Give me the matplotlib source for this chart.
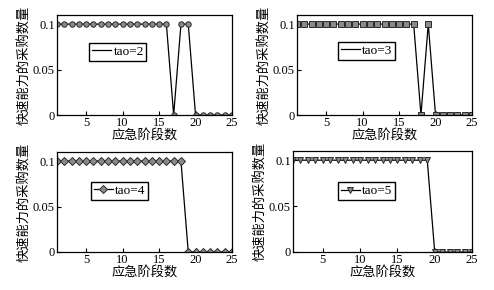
import matplotlib
matplotlib.use("Agg")
import matplotlib.pyplot as plt

# emergency stages 1..25
stages = list(range(1, 26))

# purchase quantity of fast capacity, per tao
qty_tao2 = [0.1] * 16 + [0.0, 0.1, 0.1] + [0.0] * 6
qty_tao3 = [0.1] * 17 + [0.0, 0.1] + [0.0] * 6
qty_tao4 = [0.1] * 18 + [0.0] * 7
qty_tao5 = [0.1] * 19 + [0.0] * 6

series_labels = ["tao=2", "tao=3", "tao=4", "tao=5"]
x_label = "应急阶段数"
y_label = "快速能力的采购数量"
x_ticks = [5, 10, 15, 20, 25]
y_ticks = [0, 0.05, 0.1]
y_tick_labels = ["0", "0.05", "0.1"]

W, H = 494, 290
serif = ["Liberation Serif", "Noto Sans CJK SC"]
cjk = ["Noto Sans CJK SC", "DejaVu Sans"]

fig = plt.figure(figsize=(W / 100, H / 100), dpi=100)

# (left, top, right, bottom) in pixels
boxes = [
    (57, 15, 232, 115),
    (297, 15, 472, 115),
    (57, 152, 232, 252),
    (293, 151, 472, 252),
]
legend_pos = [(0.183, 0.72), (0.234, 0.73), (0.194, 0.70), (0.251, 0.69)]
markers = ["o", "s", "D", "v"]
marker_sizes = [3.9, 3.9, 3.7, 4.3]
legend_markers = [False, False, True, True]
data = [qty_tao2, qty_tao3, qty_tao4, qty_tao5]

for i, (l, t, r, b) in enumerate(boxes):
    ax = fig.add_axes([l / W, (H - b) / H, (r - l) / W, (b - t) / H])
    ax.plot(
        stages,
        data[i],
        color="black",
        linewidth=0.9,
        marker=markers[i],
        markersize=marker_sizes[i],
        markerfacecolor="#8a8a8a",
        markeredgecolor="#2a2a2a",
        markeredgewidth=0.7,
    )
    # legend handle: plain line for first two panels, line+marker for others
    if legend_markers[i]:
        handle, = ax.plot([], [], color="black", linewidth=0.9,
                          marker=markers[i], markersize=marker_sizes[i],
                          markerfacecolor="#8a8a8a",
                          markeredgecolor="#2a2a2a", markeredgewidth=0.7)
    else:
        handle, = ax.plot([], [], color="black", linewidth=0.9)
    leg = ax.legend(
        [handle], [series_labels[i]],
        loc="upper left",
        bbox_to_anchor=legend_pos[i],
        fancybox=False,
        frameon=True,
        edgecolor="black",
        framealpha=1.0,
        handlelength=1.5,
        handletextpad=0.15,
        borderpad=0.2,
        borderaxespad=0.0,
        prop={"family": serif, "size": 9.5},
    )
    leg.get_frame().set_linewidth(1.0)

    ax.set_xlim(1, 25)
    ax.set_ylim(0, 0.11)
    ax.set_xticks(x_ticks)
    ax.set_yticks(y_ticks)
    ax.set_yticklabels(y_tick_labels)
    ax.tick_params(direction="in", length=3, width=0.8, pad=1.5,
                   labelsize=9)
    for lab in ax.get_xticklabels() + ax.get_yticklabels():
        lab.set_family(serif)
    for sp in ax.spines.values():
        sp.set_linewidth(0.9)
    ax.set_xlabel(x_label, family=cjk, fontsize=9.5, labelpad=0)
    ax.set_ylabel(y_label, family=cjk, fontsize=9.5, labelpad=1)

fig.savefig("out.png", dpi=100)
